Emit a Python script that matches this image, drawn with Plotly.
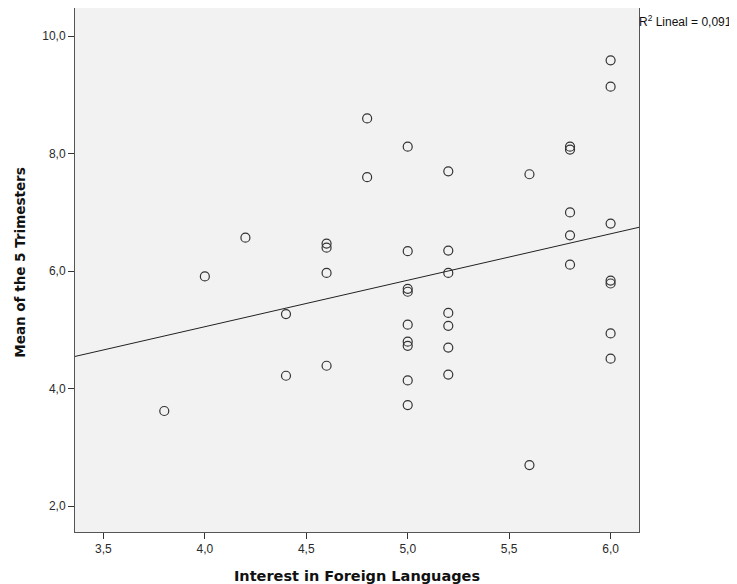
import numpy as np
import plotly.graph_objects as go

# Interest in Foreign Languages (x) and Mean of the 5 Trimesters (y)
interest = [3.8, 4.0, 4.2, 4.4, 4.4,
            4.6, 4.6, 4.6, 4.6,
            4.8, 4.8,
            5.0, 5.0, 5.0, 5.0, 5.0, 5.0, 5.0, 5.0, 5.0,
            5.2, 5.2, 5.2, 5.2, 5.2, 5.2, 5.2,
            5.6, 5.6,
            5.8, 5.8, 5.8, 5.8, 5.8,
            6.0, 6.0, 6.0, 6.0, 6.0, 6.0, 6.0]
mean_trim = [3.62, 5.91, 6.57, 5.27, 4.22,
             6.47, 6.40, 5.97, 4.39,
             8.60, 7.60,
             8.12, 6.34, 5.70, 5.65, 5.09, 4.80, 4.73, 4.14, 3.72,
             7.70, 6.35, 5.97, 5.29, 5.07, 4.70, 4.24,
             7.65, 2.70,
             8.12, 8.07, 7.00, 6.61, 6.11,
             9.59, 9.14, 6.81, 5.84, 5.79, 4.94, 4.51]

x_ticks = [3.5, 4.0, 4.5, 5.0, 5.5, 6.0]
y_ticks = [2.0, 4.0, 6.0, 8.0, 10.0]
x_range = [3.36, 6.14]
y_range = [1.56, 10.48]
r2_label = "R<sup>2</sup> Lineal = 0,091"
x_title = "<b>Interest in Foreign Languages</b>"
y_title = "<b>Mean of the 5 Trimesters</b>"

slope, intercept = np.polyfit(interest, mean_trim, 1)
fit_x = np.array(x_range)
fit_y = intercept + slope * fit_x

FONT = "Liberation Sans, Arial, sans-serif"
TITLE_FONT = "DejaVu Sans, Verdana, sans-serif"

fig = go.Figure()
fig.add_trace(go.Scatter(
    x=interest, y=mean_trim, mode="markers",
    marker=dict(symbol="circle-open", size=9, color="#333333", line=dict(width=1.2)),
    showlegend=False, hoverinfo="x+y"))
fig.add_trace(go.Scatter(
    x=fit_x, y=fit_y, mode="lines",
    line=dict(color="#222222", width=1), showlegend=False))

axis_common = dict(
    showgrid=False, zeroline=False, showline=True, linecolor="#555555", linewidth=1,
    mirror=True, ticks="outside", ticklen=6, tickcolor="#333333",
    tickfont=dict(family=FONT, size=12, color="#2a2a2a"),
    tickformat=".1f", automargin=False)
fig.update_xaxes(range=x_range, tickvals=x_ticks, **axis_common,
                 title=dict(text=x_title,
                            font=dict(family=TITLE_FONT, size=14.5, color="#111111"),
                            standoff=15))
fig.update_yaxes(range=y_range, tickvals=y_ticks, **axis_common)
fig.add_annotation(text=y_title, xref="paper", yref="paper", x=0, y=0.514,
                   xanchor="center", yanchor="middle", textangle=-90, showarrow=False,
                   xshift=-55, font=dict(family=TITLE_FONT, size=13.5, color="#111111"))
fig.add_annotation(text=r2_label, xref="paper", yref="paper", x=1.0, y=1.0,
                   xanchor="left", yanchor="top", showarrow=False, xshift=-2, yshift=-3,
                   font=dict(family=FONT, size=12, color="#111111"))
fig.update_layout(
    width=729, height=576, separators=",.",
    margin=dict(l=67, r=98, t=0, b=52),
    plot_bgcolor="#f2f2f2", paper_bgcolor="white")
fig.write_html("out.html")
